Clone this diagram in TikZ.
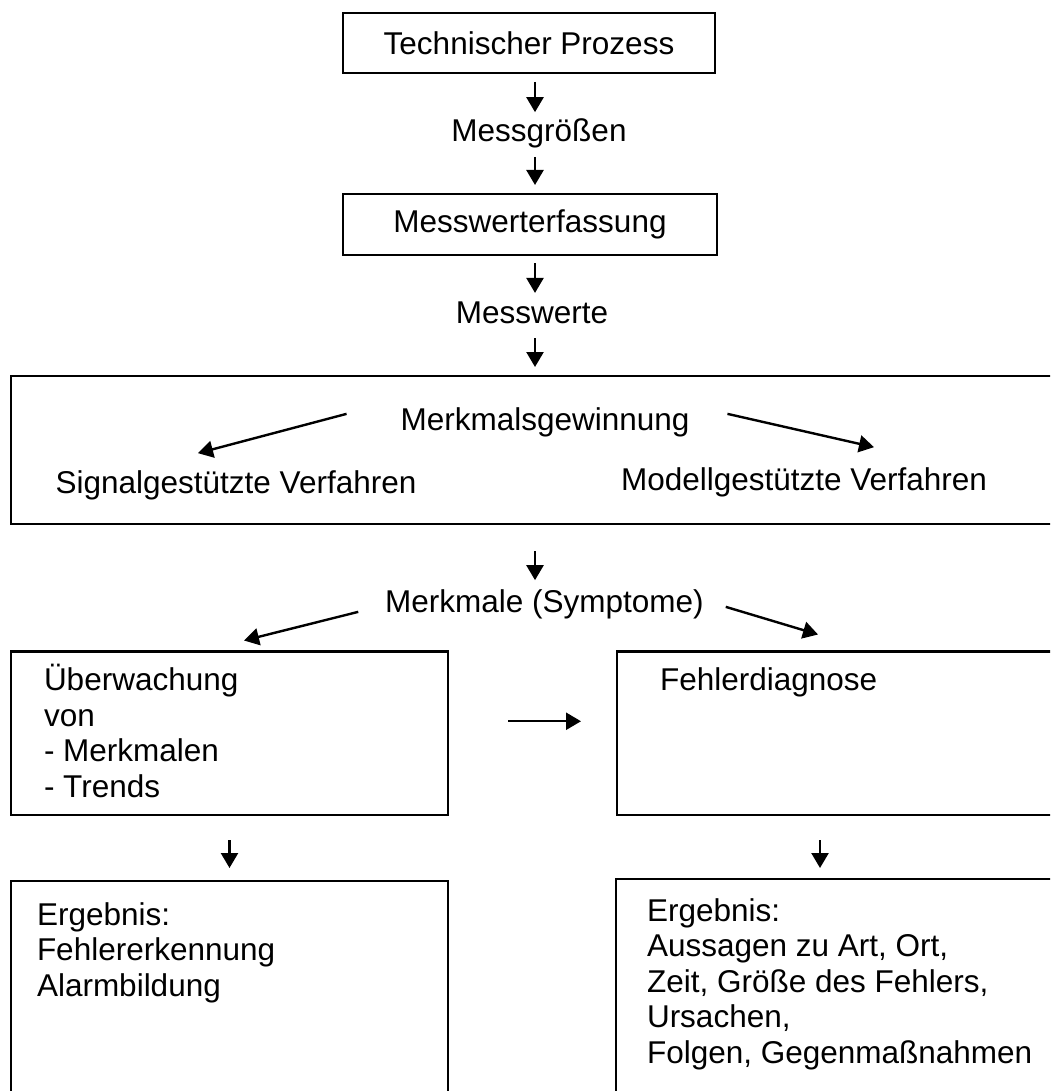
\documentclass[tikz,border=0pt]{standalone}
\usepackage{fontspec}
\setmainfont{Liberation Sans}
\usetikzlibrary{arrows.meta}
\usetikzlibrary{calc}

\begin{document}
\begin{tikzpicture}[x=0.5pt, y=-0.5pt,
	every node/.style={inner sep=0pt, outer sep=0pt, font=\fontsize{15.75}{17.75}\selectfont},
	box/.style={draw, line width=1.3pt},
	txt/.style={anchor=base},
	lines/.style={anchor=base west, align=left},
	arr/.style={-{Triangle[length=7.5pt,width=8.5pt]}, line width=1.2pt, shorten <=4.5pt, shorten >=4.5pt}]
	\useasboundingbox (0,0) rectangle (1050,1091);
	\clip (0,0) rectangle (1050,1091);
	\coordinate (axis) at (535,0);
	\coordinate (diagaxis) at (820,0);

	% Prozess bis Messwerte
	\node[box, minimum width=186pt, minimum height=30pt] (prozess) at (529,43) {Technischer Prozess};
	\node[txt] (groessen) at (539,142) {Messgrößen};
	\node[box, minimum width=187pt, minimum height=30.5pt] (erfassung) at (530,224.5) {Messwerterfassung};
	\node[txt] (werte) at (532,323) {Messwerte};

	\draw[arr, shorten >=3.5pt] (prozess.south -| axis) -- (groessen.north -| axis);
	\draw[arr, shorten <=4.2pt] (groessen.south -| axis) -- (erfassung.north -| axis);
	\draw[arr, shorten <=4pt, shorten >=4.2pt] (erfassung.south -| axis) -- (werte.north -| axis);

	% Merkmalsgewinnung
	\node[box, minimum width=524.5pt, minimum height=74pt] (gewinnung) at (535.5,450) {};
	\node[txt] (merkmalsgew) at (545,430) {Merkmalsgewinnung};
	\node[txt] (signal) at (236,493) {Signalgestützte Verfahren};
	\node[txt] (modell) at (804,490) {Modellgestützte Verfahren};

	\draw[arr, shorten <=7.5pt] (werte.south -| axis) -- (gewinnung.north -| axis);
	\draw[arr, shorten <=0pt, shorten >=0pt] ($(merkmalsgew.west)+(-54,-8)$) -- ($(signal.north)+(-38,-17)$);
	\draw[arr, shorten <=0pt, shorten >=0pt] ($(merkmalsgew.east)+(38,-8)$) -- ($(modell.north)+(70,-20)$);

	% Merkmale
	\node[txt] (symptome) at (544.5,612) {Merkmale (Symptome)};
	\draw[arr, shorten <=13.5pt] (gewinnung.south -| axis) -- (symptome.north -| axis);

	\node[box, minimum width=218.5pt, minimum height=81.75pt] (monitor) at (229.5,733.25) {};
	\node[lines] (montext) at (44,797) {Überwachung\\von\\- Merkmalen\\- Trends};
	\node[box, minimum width=221.5pt, minimum height=81.75pt] (diagnose) at (838.5,733.25) {};
	\node[lines] (diagtext) at (660,690) {Fehlerdiagnose};

	\draw[arr, shorten <=0pt, shorten >=0pt] ($(symptome.west)+(-27,8)$) -- ($(monitor.north)+(14.5,-11)$);
	\draw[arr, shorten <=0pt, shorten >=0pt] ($(symptome.east)+(22,3)$) -- ($(diagnose.north)+(-20.5,-17)$);
	\draw[arr, shorten <=30pt, shorten >=18pt] ([yshift=6pt]monitor.east) -- ([yshift=6pt]diagnose.west);

	% Ergebnisse
	\node[box, minimum width=218.5pt, minimum height=114.5pt] (result1) at (229.5,995.5) {};
	\node[lines] (restext1) at (37,996) {Ergebnis:\\Fehlererkennung\\Alarmbildung};
	\node[box, minimum width=222pt, minimum height=115.5pt] (result2) at (838,994.5) {};
	\node[lines] (restext2) at (647,1063) {Ergebnis:\\Aussagen zu Art, Ort,\\Zeit, Größe des Fehlers,\\Ursachen,\\Folgen, Gegenmaßnahmen};

	\draw[arr, shorten <=12.5pt, shorten >=6.5pt] (monitor.south) -- (result1.north);
	\draw[arr, shorten <=12.5pt, shorten >=5.5pt] (diagnose.south -| diagaxis) -- (result2.north -| diagaxis);
\end{tikzpicture}
\end{document}
